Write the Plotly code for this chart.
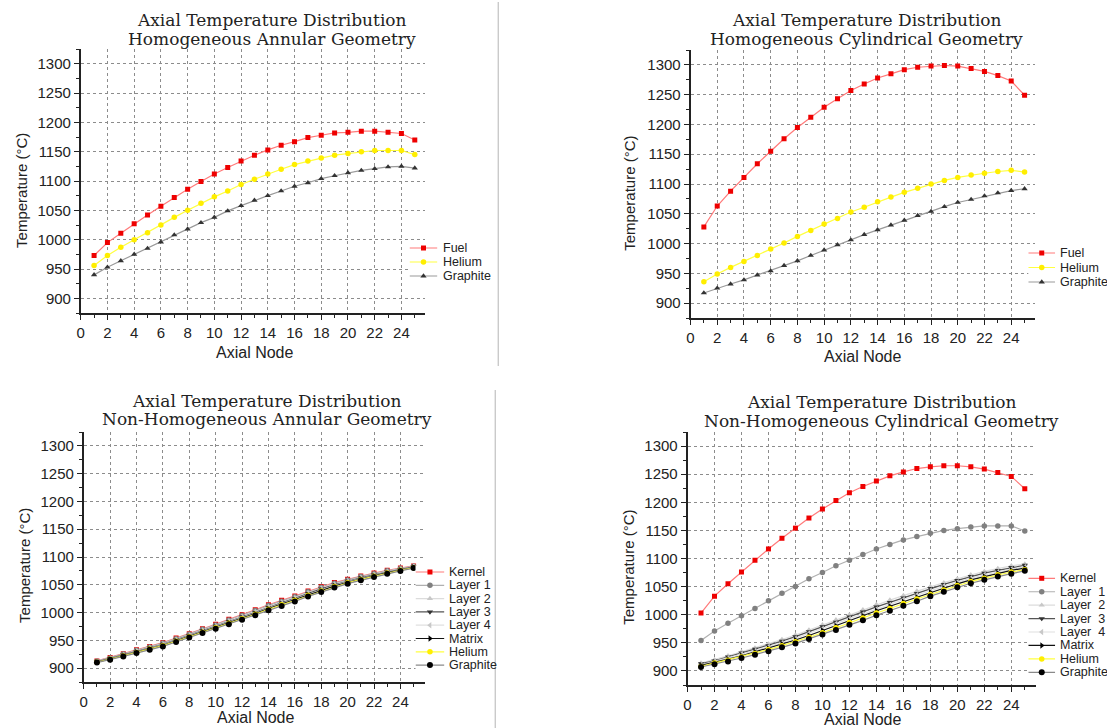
import plotly.graph_objects as go

W, H = 1107, 728

# ---------------- data ----------------
nodes = list(range(1, 26))
x_tick_vals = list(range(0, 25, 2))
y_tick_vals = list(range(900, 1301, 50))

title_line1 = "Axial Temperature Distribution"
panel_titles = [
    "Homogeneous Annular Geometry",
    "Homogeneous Cylindrical Geometry",
    "Non-Homogeneous Annular Geometry",
    "Non-Homogeneous Cylindrical Geometry",
]
x_label = "Axial Node"
y_label = "Temperature (°C)"

# Homogeneous Annular
ha_fuel = [973, 995, 1011, 1027, 1042, 1057, 1072, 1086, 1099, 1112, 1123, 1134, 1144,
           1153, 1161, 1167, 1174, 1178, 1182, 1183, 1185, 1185, 1183, 1181, 1170]
ha_helium = [956, 973, 987, 1000, 1012, 1025, 1038, 1050, 1062, 1073, 1083, 1094, 1103,
             1112, 1120, 1128, 1134, 1139, 1144, 1147, 1150, 1152, 1152, 1152, 1145]
ha_graphite = [940, 953, 964, 975, 985, 996, 1008, 1018, 1029, 1038, 1049, 1058, 1067,
               1075, 1083, 1091, 1097, 1104, 1109, 1114, 1118, 1121, 1124, 1125, 1122]

# Homogeneous Cylindrical
hc_fuel = [1028, 1063, 1088, 1111, 1134, 1155, 1176, 1195, 1212, 1229, 1243, 1257, 1268,
           1278, 1285, 1292, 1296, 1298, 1299, 1298, 1294, 1289, 1282, 1273, 1249]
hc_helium = [936, 949, 960, 970, 980, 991, 1001, 1012, 1022, 1033, 1042, 1053, 1061,
             1070, 1078, 1086, 1093, 1100, 1106, 1111, 1115, 1118, 1121, 1123, 1120]
hc_graphite = [917, 925, 932, 939, 947, 954, 963, 971, 980, 989, 998, 1006, 1015,
               1023, 1031, 1039, 1047, 1054, 1062, 1069, 1074, 1080, 1085, 1089, 1092]

# Non-Homogeneous Annular
nha_kernel = [913, 919, 926, 933, 939, 946, 954, 962, 971, 979, 988, 996, 1005,
              1014, 1022, 1030, 1039, 1047, 1054, 1060, 1066, 1071, 1076, 1080, 1084]
nha_layer1 = [912.5, 918.4, 925.2, 932.1, 938.1, 945.0, 953.0, 961.0, 969.8, 977.8, 986.6, 994.6, 1003.5,
              1012.5, 1020.5, 1028.5, 1037.5, 1045.5, 1052.6, 1058.8, 1064.8, 1070.0, 1075.1, 1079.2, 1083.4]
nha_layer2 = [912.1, 917.8, 924.5, 931.2, 937.2, 943.9, 951.9, 959.9, 968.6, 976.6, 985.3, 993.3, 1002.0,
              1011.0, 1019.0, 1027.0, 1036.0, 1044.0, 1051.3, 1057.6, 1063.6, 1068.9, 1074.2, 1078.5, 1082.8]
nha_layer3 = [911.6, 917.2, 923.8, 930.3, 936.3, 942.8, 950.8, 958.8, 967.4, 975.4, 984.0, 992.0, 1000.5,
              1009.5, 1017.5, 1025.5, 1034.5, 1042.5, 1050.0, 1056.4, 1062.4, 1067.8, 1073.3, 1077.8, 1082.2]
nha_layer4 = [911.2, 916.6, 923.0, 929.4, 935.4, 941.8, 949.8, 957.8, 966.2, 974.2, 982.6, 990.6, 999.0,
              1008.0, 1016.0, 1024.0, 1033.0, 1041.0, 1048.6, 1055.2, 1061.2, 1066.8, 1072.4, 1077.0, 1081.6]
nha_matrix = [910.9, 916.2, 922.5, 928.8, 934.8, 941.1, 949.1, 957.1, 965.4, 973.4, 981.7, 989.7, 998.0,
              1007.0, 1015.0, 1023.0, 1032.0, 1040.0, 1047.7, 1054.4, 1060.4, 1066.1, 1071.8, 1076.5, 1081.2]
nha_helium = [910.6, 915.8, 922.0, 928.2, 934.2, 940.4, 948.4, 956.4, 964.6, 972.6, 980.8, 988.8, 997.0,
              1006.0, 1014.0, 1022.0, 1031.0, 1039.0, 1046.8, 1053.6, 1059.6, 1065.4, 1071.2, 1076.0, 1080.8]
nha_graphite = [910, 915, 921, 927, 933, 939, 947, 955, 963, 971, 979, 987, 995,
                1004, 1012, 1020, 1029, 1037, 1045, 1052, 1058, 1064, 1070, 1075, 1080]

# Non-Homogeneous Cylindrical
nhc_kernel = [1003, 1033, 1055, 1076, 1097, 1117, 1136, 1154, 1172, 1188, 1203, 1217, 1228,
              1238, 1247, 1254, 1260, 1263, 1265, 1265, 1263, 1259, 1253, 1246, 1224]
nhc_layer1 = [954, 971, 985, 998, 1011, 1025, 1038, 1050, 1064, 1075, 1087, 1097, 1107,
              1117, 1125, 1133, 1139, 1145, 1150, 1153, 1156, 1158, 1158, 1158, 1149]
nhc_layer2 = [914, 920, 927, 934, 941, 948, 956, 964, 973, 982, 991, 1000, 1009,
              1018, 1026, 1034, 1042, 1050, 1057, 1064, 1071, 1077, 1082, 1087, 1090]
nhc_layer3 = [913, 918, 925, 932, 939, 945, 953, 961, 970, 979, 987, 996, 1005,
              1014, 1022, 1030, 1038, 1047, 1054, 1061, 1068, 1074, 1079, 1084, 1088]
nhc_layer4 = [911, 917, 923, 930, 936, 943, 950, 958, 967, 975, 984, 993, 1001,
              1010, 1018, 1027, 1035, 1043, 1051, 1058, 1065, 1071, 1076, 1081, 1085]
nhc_matrix = [910, 915, 921, 927, 934, 940, 948, 955, 963, 972, 980, 989, 998,
              1007, 1015, 1023, 1031, 1040, 1047, 1055, 1062, 1068, 1074, 1079, 1083]
nhc_helium = [908, 914, 919, 925, 931, 938, 945, 952, 960, 968, 977, 986, 994,
              1003, 1011, 1020, 1028, 1036, 1044, 1052, 1059, 1065, 1071, 1076, 1080]
nhc_graphite = [907, 912, 917, 923, 929, 935, 942, 949, 957, 965, 973, 982, 990,
                999, 1007, 1016, 1024, 1033, 1041, 1049, 1056, 1062, 1068, 1073, 1078]

# ---------------- styles ----------------
STY = {
    "Fuel":     dict(line="#ff7a7a", marker="#ee0000", symbol="square", size=5),
    "Kernel":   dict(line="#ff7a7a", marker="#ee0000", symbol="square", size=5),
    "Helium":   dict(line="#ffff40", marker="#ffee00", symbol="circle", size=5.5),
    "Graphite": dict(line="#9a9a9a", marker="#333333", symbol="triangle-up", size=5.5),
    "GraphiteNH": dict(line="#8a8a8a", marker="#000000", symbol="circle", size=6),
    "Layer 1":  dict(line="#b0b0b0", marker="#808080", symbol="circle", size=5.5),
    "Layer 2":  dict(line="#dcdcdc", marker="#c8c8c8", symbol="triangle-up", size=5.5),
    "Layer 3":  dict(line="#555555", marker="#333333", symbol="triangle-down", size=5.5),
    "Layer 4":  dict(line="#e0e0e0", marker="#c8c8c8", symbol="triangle-left", size=5.5),
    "Matrix":   dict(line="#111111", marker="#000000", symbol="triangle-right", size=5.5),
}

def px_x(p):
    return p / W

def px_y(p):
    return 1 - p / H

panels = [
    dict(xd=(77, 423), yd=(49, 313), xr=[0, 25.8],
         series=[("Fuel", "Fuel", ha_fuel), ("Helium", "Helium", ha_helium),
                 ("Graphite", "Graphite", ha_graphite)],
         tc=269, ty=(20, 39), ylab=(18, 190), xlab=(251, 352),
         leg=(407, 435, 248, 14.0, 439)),
    dict(xd=(689, 1035), yd=(50, 318), xr=[0, 25.8],
         series=[("Fuel", "Fuel", hc_fuel), ("Helium", "Helium", hc_helium),
                 ("Graphite", "Graphite", hc_graphite)],
         tc=866, ty=(20, 39), ylab=(628, 193), xlab=(862, 356),
         leg=(1028, 1055, 253, 14.5, 1058)),
    dict(xd=(80, 423), yd=(432, 682), xr=[0, 25.9],
         series=[("Kernel", "Kernel", nha_kernel), ("Layer 1", "Layer 1", nha_layer1),
                 ("Layer 2", "Layer 2", nha_layer2), ("Layer 3", "Layer 3", nha_layer3),
                 ("Layer 4", "Layer 4", nha_layer4), ("Matrix", "Matrix", nha_matrix),
                 ("Helium", "Helium", nha_helium), ("Graphite", "GraphiteNH", nha_graphite)],
         tc=264, ty=(401, 419), ylab=(20, 565), xlab=(252, 717),
         leg=(413, 442, 572, 13.3, 445)),
    dict(xd=(686, 1036), yd=(432, 685), xr=[0, 25.85],
         series=[("Kernel", "Kernel", nhc_kernel), ("Layer\u00a0\u00a01", "Layer 1", nhc_layer1),
                 ("Layer\u00a0\u00a02", "Layer 2", nhc_layer2), ("Layer\u00a0\u00a03", "Layer 3", nhc_layer3),
                 ("Layer\u00a0\u00a04", "Layer 4", nhc_layer4), ("Matrix", "Matrix", nhc_matrix),
                 ("Helium", "Helium", nhc_helium), ("Graphite", "GraphiteNH", nhc_graphite)],
         tc=881, ty=(402, 421), ylab=(626, 567), xlab=(862, 719),
         leg=(1028, 1055, 578.3, 13.43, 1058)),
]

SANS = "Liberation Sans, Arial, sans-serif"
SERIF = "DejaVu Serif, Liberation Serif, serif"
INK = "#222222"

fig = go.Figure()
layout = dict(width=W, height=H, margin=dict(l=0, r=0, t=0, b=0),
              paper_bgcolor="white", plot_bgcolor="white", showlegend=False)
annotations = []
shapes = []

for k, p in enumerate(panels, start=1):
    xa, ya = f"x{k}", f"y{k}"
    for name, key, vals in p["series"]:
        s = STY[key]
        fig.add_trace(go.Scatter(
            x=nodes, y=vals, mode="lines+markers", name=name,
            xaxis=xa, yaxis=ya,
            line=dict(color=s["line"], width=1.2),
            marker=dict(color=s["marker"], symbol=s["symbol"], size=s["size"],
                        line=dict(width=0)),
        ))
    axc = dict(showline=True, linecolor=INK, linewidth=1.6, ticks="outside", ticklen=5,
               tickwidth=1.3, tickcolor=INK, showgrid=True, gridcolor="#8c8c8c",
               griddash="dot", gridwidth=1, zeroline=False,
               tickfont=dict(family=SANS, size=15, color=INK), fixedrange=True)
    layout[f"xaxis{k}"] = dict(axc, domain=[px_x(p["xd"][0]), px_x(p["xd"][1])],
                               range=p["xr"], anchor=ya, tickmode="array",
                               tickvals=x_tick_vals,
                               minor=dict(ticks="outside", ticklen=3, tickcolor=INK,
                                          dtick=1, tick0=0, showgrid=False))
    layout[f"yaxis{k}"] = dict(axc, domain=[px_y(p["yd"][1]), px_y(p["yd"][0])],
                               range=[875, 1325], anchor=xa, tickmode="array",
                               tickvals=y_tick_vals,
                               minor=dict(ticks="outside", ticklen=3, tickcolor=INK,
                                          dtick=25, tick0=875, showgrid=False))
    # titles
    annotations.append(dict(text=title_line1, x=px_x(p["tc"]), y=px_y(p["ty"][0]),
                            xref="paper", yref="paper", showarrow=False,
                            xanchor="center", yanchor="middle",
                            font=dict(family=SERIF, size=17, color=INK)))
    annotations.append(dict(text=panel_titles[k - 1], x=px_x(p["tc"]), y=px_y(p["ty"][1]),
                            xref="paper", yref="paper", showarrow=False,
                            xanchor="center", yanchor="middle",
                            font=dict(family=SERIF, size=17, color=INK)))
    annotations.append(dict(text=y_label, x=px_x(p["ylab"][0]), y=px_y(p["ylab"][1]),
                            xref="paper", yref="paper", showarrow=False, textangle=-90,
                            xanchor="center", yanchor="middle",
                            font=dict(family=SANS, size=15, color=INK)))
    annotations.append(dict(text=x_label, x=px_x(p["xlab"][0]), y=px_y(p["xlab"][1]),
                            xref="paper", yref="paper", showarrow=False,
                            xanchor="center", yanchor="middle",
                            font=dict(family=SANS, size=16, color=INK)))

    # legend on its own small axes
    lx0, lx1, ly0, step, tx = p["leg"]
    n = len(p["series"])
    top = ly0 - step / 2
    lk = k + 4
    lxa, lya = f"x{lk}", f"y{lk}"
    layout[f"xaxis{lk}"] = dict(domain=[px_x(lx0), px_x(lx1)], range=[0, 1],
                                anchor=lya, visible=False, fixedrange=True)
    layout[f"yaxis{lk}"] = dict(domain=[px_y(top + n * step), px_y(top)],
                                range=[n - 0.5, -0.5], anchor=lxa, visible=False,
                                fixedrange=True)
    for i, (name, key, vals) in enumerate(p["series"]):
        s = STY[key]
        fig.add_trace(go.Scatter(
            x=[0, 1], y=[i, i], mode="lines", xaxis=lxa, yaxis=lya,
            line=dict(color=s["line"], width=1.2), hoverinfo="skip", cliponaxis=False))
        fig.add_trace(go.Scatter(
            x=[0.5], y=[i], mode="markers", xaxis=lxa, yaxis=lya,
            marker=dict(color=s["marker"], symbol=s["symbol"], size=s["size"],
                        line=dict(width=0)), hoverinfo="skip", cliponaxis=False))
        annotations.append(dict(text=name, x=px_x(tx), y=i, xref="paper", yref=lya,
                                showarrow=False, xanchor="left", yanchor="middle",
                                font=dict(family=SANS, size=12.5, color=INK)))

# panel separators
shapes.append(dict(type="line", xref="paper", yref="paper",
                   x0=px_x(496), x1=px_x(496), y0=px_y(2), y1=px_y(366),
                   line=dict(color="#b4b4b4", width=1)))
shapes.append(dict(type="line", xref="paper", yref="paper",
                   x0=px_x(493), x1=px_x(493), y0=px_y(390), y1=px_y(728),
                   line=dict(color="#b4b4b4", width=1)))

layout["annotations"] = annotations
layout["shapes"] = shapes
fig.update_layout(**layout)
fig.write_html("out.html", config={"displayModeBar": False},
               post_script="document.body.style.margin='0';document.body.style.overflow='hidden';")
